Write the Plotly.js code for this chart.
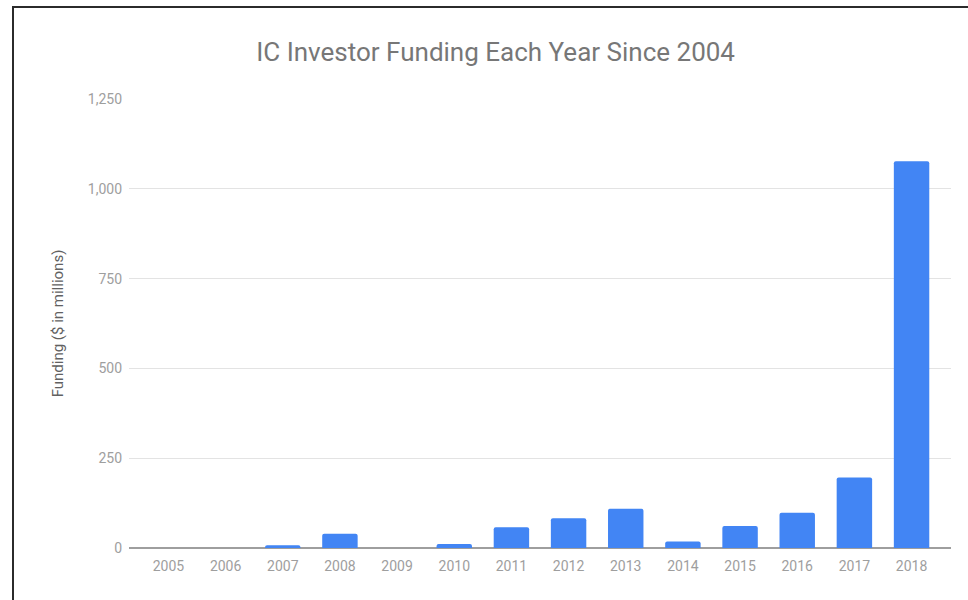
<!DOCTYPE html>
<html>
<head>
<meta charset="utf-8">
<script src="https://cdn.plot.ly/plotly-3.0.1.min.js"></script>
<style>
html,body{margin:0;padding:0;background:#fff;}
#wrap{position:relative;width:968px;height:600px;overflow:hidden;}
#chart{width:968px;height:600px;}
#frame{position:absolute;left:12px;top:6px;width:1000px;height:700px;border-top:2px solid #2b2b2b;border-left:2px solid #2b2b2b;pointer-events:none;}
</style>
</head>
<body>
<div id="wrap">
<div id="chart"></div>
<div id="frame"></div>
</div>
<script>
const years = ['2005','2006','2007','2008','2009','2010','2011','2012','2013','2014','2015','2016','2017','2018'];
const funding = [0, 0, 7.5, 40, 0, 11, 58, 83, 109, 18, 61, 98, 196, 1077];
const yTicks = [0, 250, 500, 750, 1000, 1250];
const yTickLabels = ['0', '250', '500', '750', '1,000', '1,250'];

const trace = {
  type: 'bar',
  x: years,
  y: funding,
  marker: {color: '#4285f4', cornerradius: 2},
  hoverinfo: 'x+y'
};

const layout = {
  width: 968,
  height: 600,
  margin: {l: 129, r: 17, t: 99, b: 52},
  paper_bgcolor: '#fff',
  plot_bgcolor: '#fff',
  font: {family: 'Roboto, "Open Sans", sans-serif', color: '#9e9e9e', size: 14},
  title: {
    text: 'IC Investor Funding Each Year Since 2004',
    font: {family: 'Roboto, sans-serif', size: 26, color: '#777777'},
    x: 0.512, xanchor: 'center', xref: 'container',
    y: 0.913, yanchor: 'middle', yref: 'container'
  },
  bargap: 0.38,
  xaxis: {
    type: 'category',
    range: [-0.69, 13.69],
    showgrid: false,
    showline: false,
    zeroline: false,
    ticks: '',
    tickfont: {size: 14, color: '#9e9e9e'},
    ticklabelstandoff: 8
  },
  yaxis: {
    range: [0, 1250],
    tickvals: yTicks,
    ticktext: yTickLabels,
    showgrid: true,
    gridcolor: '#e3e3e3',
    gridwidth: 1,
    zeroline: true,
    zerolinecolor: '#9e9e9e',
    zerolinewidth: 2,
    showline: false,
    ticks: '',
    ticklabelstandoff: 6,
    tickfont: {size: 14, color: '#9e9e9e'},
    title: {
      text: 'Funding ($ in millions)',
      font: {size: 15, color: '#616161'},
      standoff: 20
    }
  },
  showlegend: false
};

Plotly.newPlot('chart', [trace], layout, {displayModeBar: false, staticPlot: true});
</script>
</body>
</html>
